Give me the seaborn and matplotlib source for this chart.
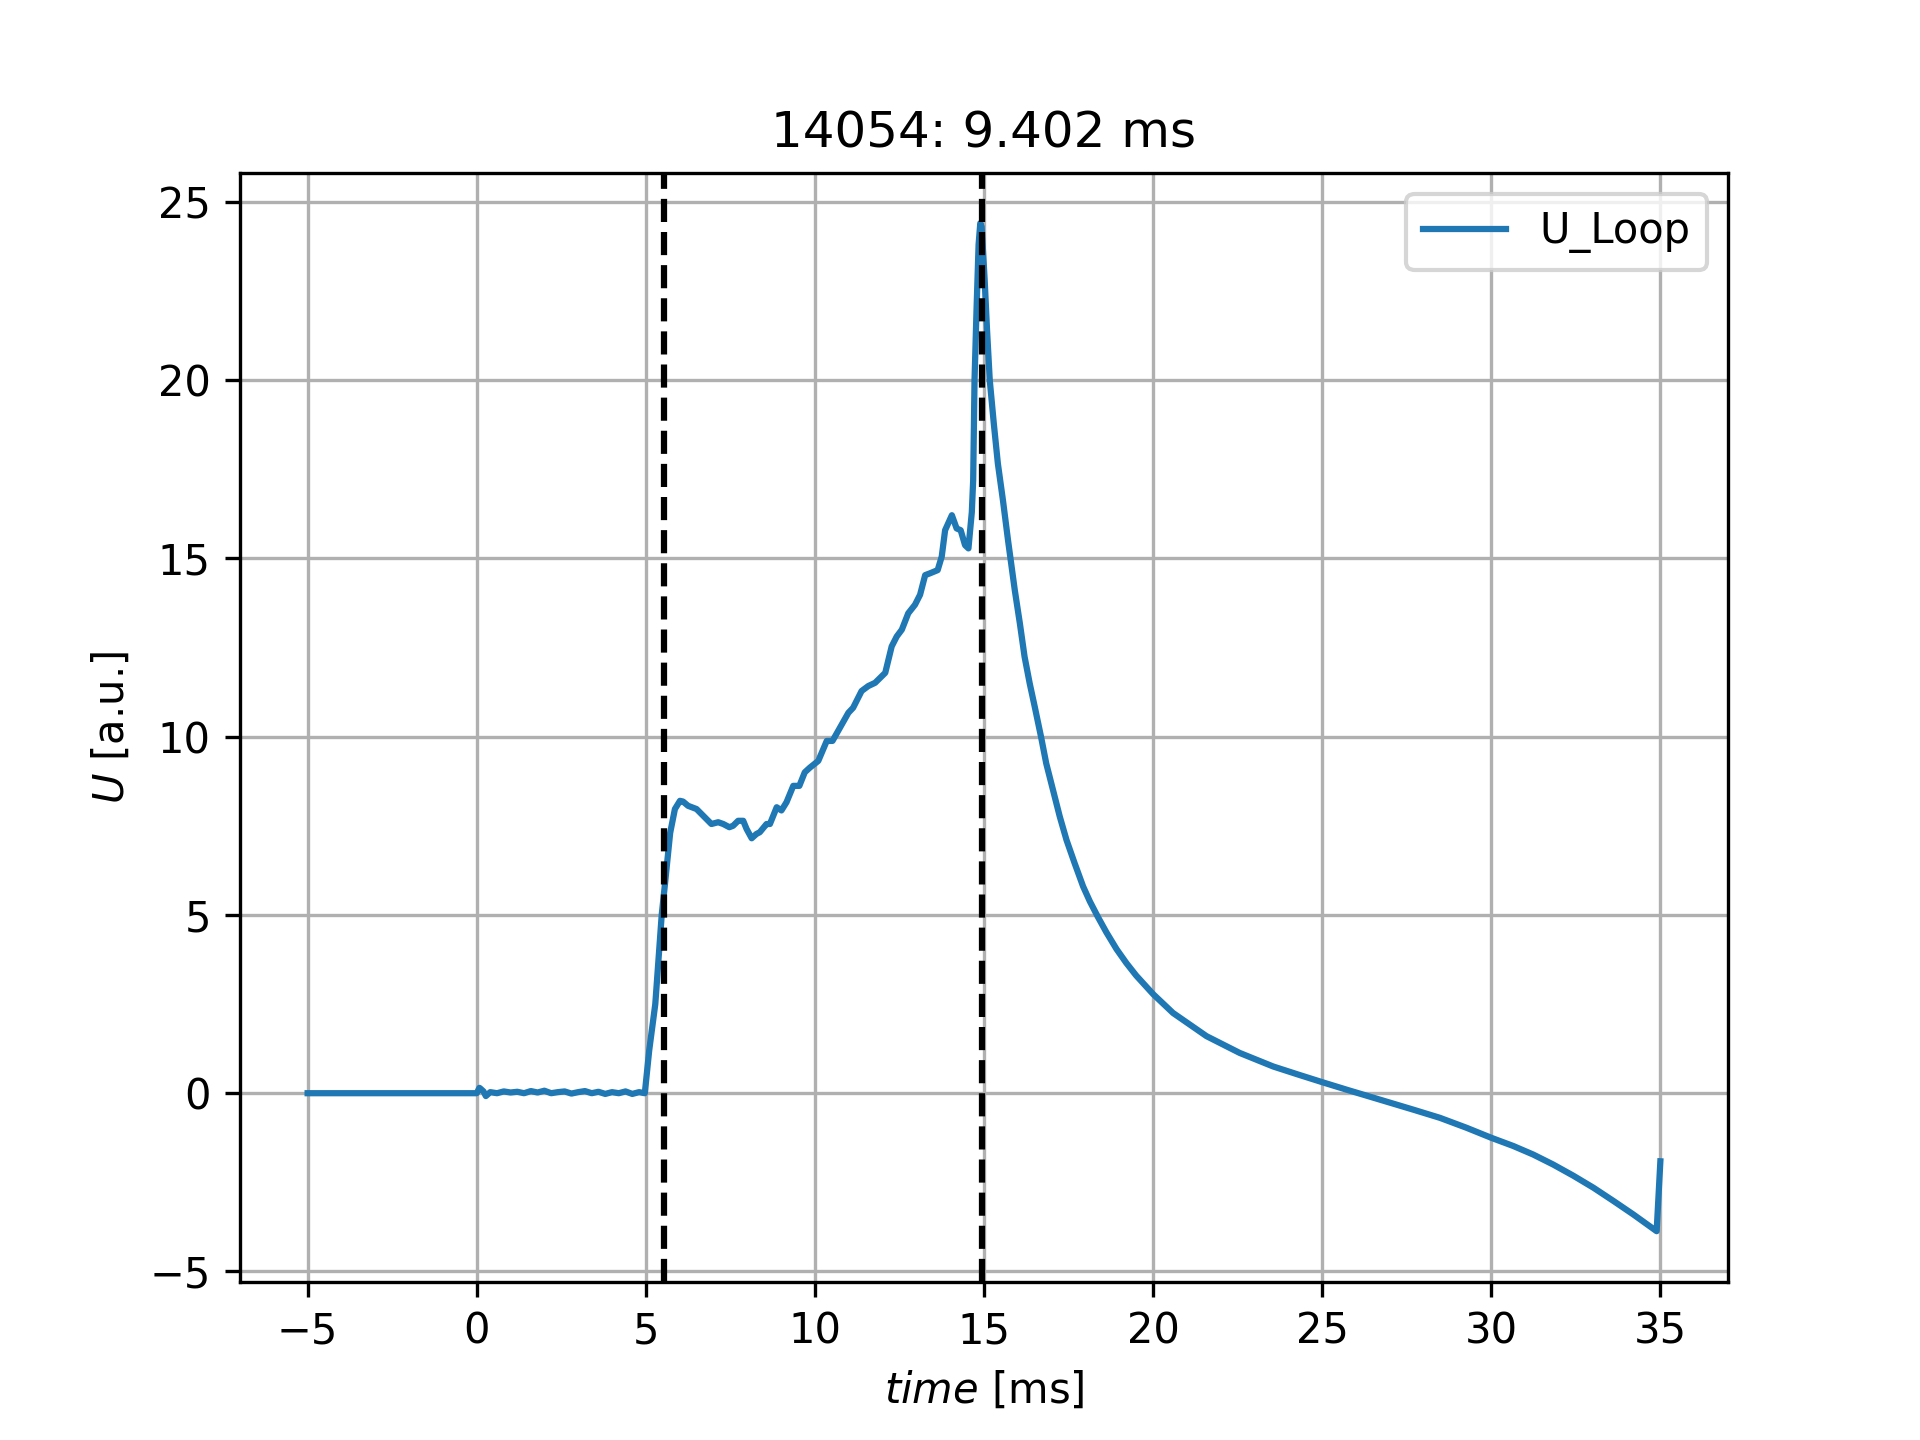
import matplotlib
matplotlib.use("Agg")
import matplotlib.pyplot as plt
import seaborn as sns
import pandas as pd

# ------------------ Data ------------------
shot = 14054
t_start = 5.53      # ms, left marker
t_end = 14.932      # ms, right marker

time_ms = [
    -5.0, 0.0, 0.08, 0.12, 0.2, 0.27, 0.4, 0.6, 0.8, 1.0, 1.2, 1.4, 1.6, 1.8,
    2.0, 2.2, 2.4, 2.6, 2.8, 3.0, 3.2, 3.4, 3.6, 3.8, 4.0, 4.2, 4.4, 4.6, 4.8,
    4.97, 5.1, 5.28, 5.47, 5.57, 5.72, 5.86, 6.01, 6.1, 6.25, 6.5, 6.7, 6.94,
    7.14, 7.29, 7.47, 7.58, 7.73, 7.88, 7.98, 8.13, 8.27, 8.37, 8.57, 8.67,
    8.87, 9.01, 9.16, 9.36, 9.54, 9.7, 9.85, 10.1, 10.35, 10.52, 10.74, 10.99,
    11.13, 11.38, 11.58, 11.78, 12.08, 12.27, 12.42, 12.57, 12.76, 12.96,
    13.11, 13.26, 13.4, 13.63, 13.75, 13.85, 14.05, 14.19, 14.31, 14.44,
    14.54, 14.64, 14.68, 14.72, 14.78, 14.84, 14.89, 14.93, 15.02, 15.09,
    15.17, 15.29, 15.41, 15.56, 15.71, 15.81, 15.91, 16.06, 16.2, 16.35,
    16.5, 16.69, 16.84, 17.04, 17.24, 17.44, 17.68, 17.93, 18.13, 18.37,
    18.62, 18.92, 19.21, 19.5, 20.0, 20.59, 21.58, 22.56, 23.55, 24.3, 25.0,
    25.72, 26.71, 27.69, 28.48, 29.27, 30.0, 30.65, 31.24, 31.83, 32.42,
    33.02, 33.61, 34.2, 34.89, 35.0,
]
u_loop = [
    0.0, 0.0, 0.15, 0.12, 0.05, -0.08, 0.03, 0.0, 0.05, 0.02, 0.04, 0.0, 0.06,
    0.02, 0.07, 0.0, 0.03, 0.05, -0.01, 0.03, 0.06, 0.0, 0.04, -0.02, 0.03,
    0.0, 0.05, -0.02, 0.03,
    0.0, 1.2, 2.5, 5.0, 5.9, 7.3, 7.97, 8.2, 8.18, 8.06, 7.97, 7.78, 7.55,
    7.6, 7.55, 7.46, 7.5, 7.64, 7.64, 7.41, 7.15, 7.27, 7.32, 7.55, 7.55,
    8.02, 7.93, 8.16, 8.62, 8.62, 9.0, 9.13, 9.32, 9.88, 9.88, 10.25, 10.67,
    10.81, 11.28, 11.42, 11.51, 11.79, 12.53, 12.81, 13.0, 13.46, 13.7,
    13.98, 14.53, 14.58, 14.67, 15.05, 15.79, 16.21, 15.84, 15.79, 15.37,
    15.28, 16.3, 17.2, 20.0, 22.0, 23.8, 24.4, 24.3, 22.8, 21.4,
    20.0, 18.78, 17.66, 16.63, 15.51, 14.81, 14.11, 13.18, 12.24, 11.5,
    10.84, 9.98, 9.25, 8.51, 7.76, 7.1, 6.45, 5.8, 5.38, 4.94,
    4.51, 4.04, 3.65, 3.3, 2.78, 2.25, 1.6, 1.13, 0.75, 0.52, 0.31,
    0.1, -0.18, -0.46, -0.69, -0.97, -1.25, -1.48, -1.72, -2.0, -2.31,
    -2.65, -3.02, -3.4, -3.87, -1.91,
]

df = pd.DataFrame({"time": time_ms, "U": u_loop})

# ------------------ Plot ------------------
fig, ax = plt.subplots(figsize=(6.4, 4.8), dpi=300)
sns.lineplot(data=df, x="time", y="U", label="U_Loop", color="#1f77b4",
             linewidth=1.5, ax=ax, estimator=None, sort=False)
ax.axvline(t_start, color="k", linestyle="--", linewidth=1.5)
ax.axvline(t_end, color="k", linestyle="--", linewidth=1.5)

ax.set_title(f"{shot}: {t_end - t_start:.3f} ms")
ax.set_xlabel("$time$ [ms]")
ax.set_ylabel("$U$ [a.u.]")
ax.grid(True)
ax.legend(loc="upper right")

fig.savefig("out.png", dpi=300)
